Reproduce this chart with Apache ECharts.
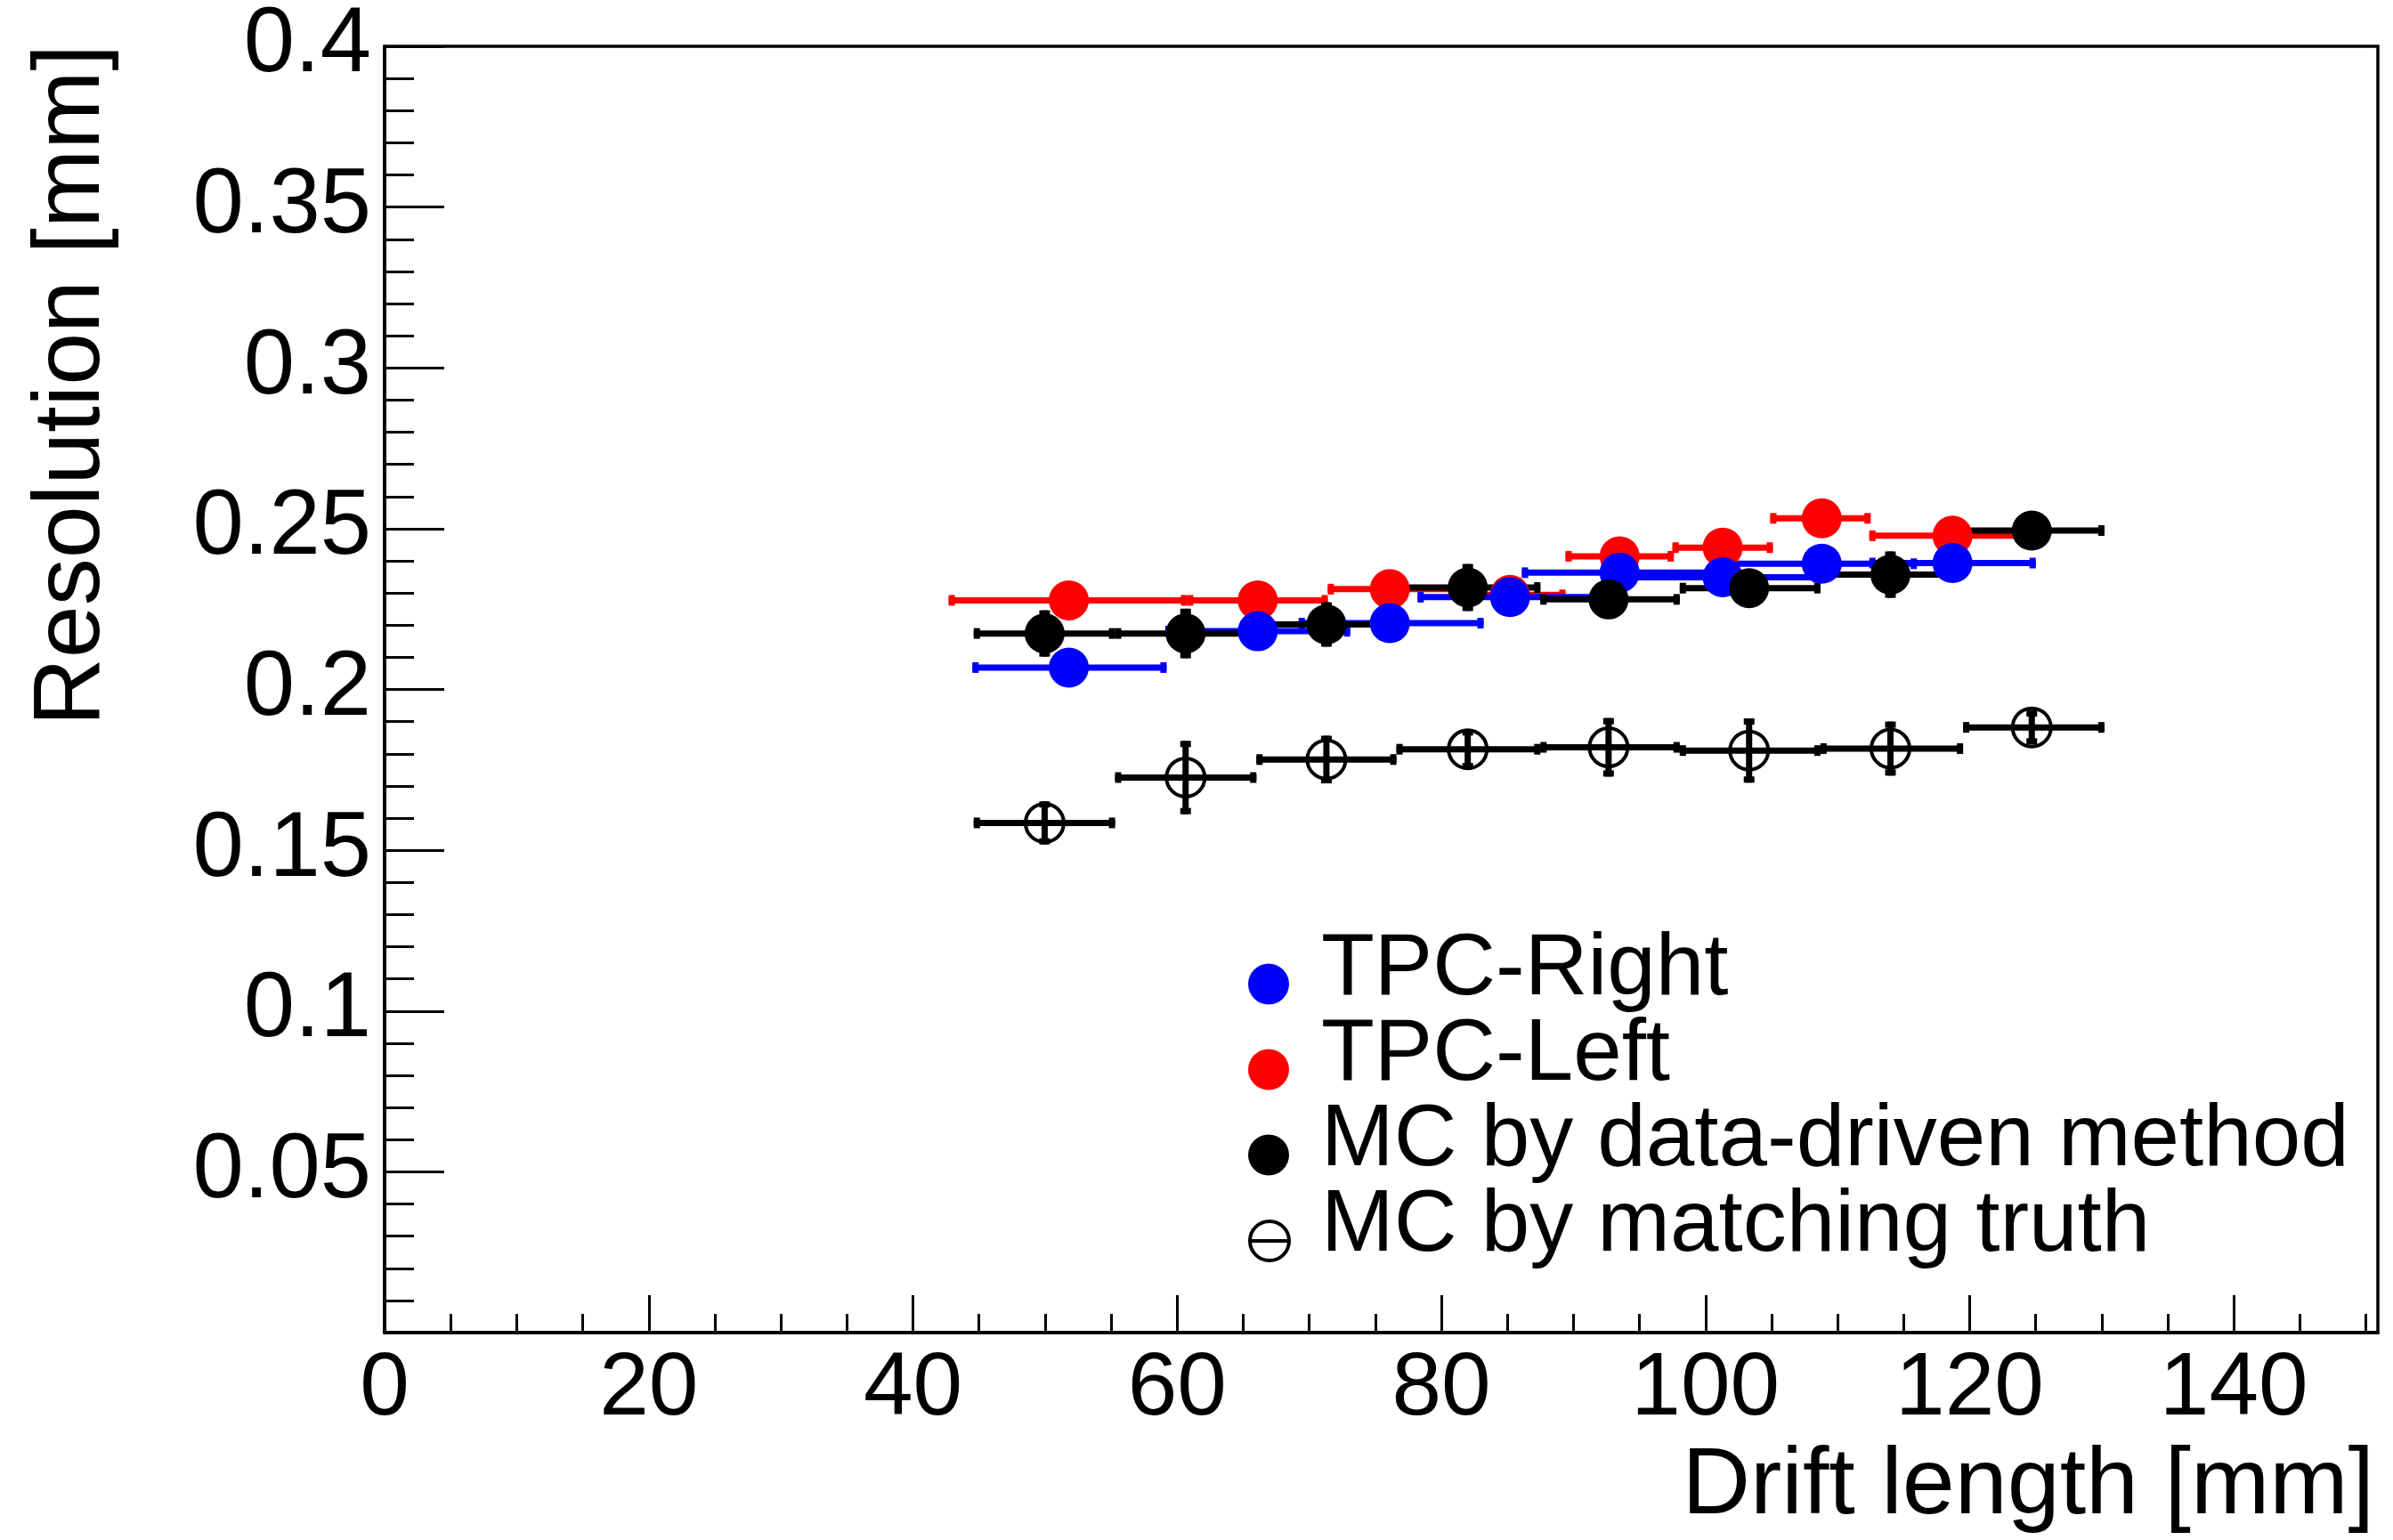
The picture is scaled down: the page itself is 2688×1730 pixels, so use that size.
<!DOCTYPE html>
<html>
<head>
<meta charset="utf-8">
<script src="https://cdn.jsdelivr.net/npm/echarts@6/dist/echarts.min.js"></script>
<style>
html,body{margin:0;padding:0;background:#fff;}
#chart{width:2688px;height:1730px;}
</style>
</head>
<body>
<div id="chart"></div>
<script>
// ---- data (drift length in mm, resolution in mm) ----
const xTicks = [0, 20, 40, 60, 80, 100, 120, 140];
const xMinorTicks = [5, 10, 15, 25, 30, 35, 45, 50, 55, 65, 70, 75, 85, 90, 95, 105, 110, 115, 125, 130, 135, 145, 150];

const xRight   = [51.8, 66.1, 76.1, 85.2, 93.5, 101.3, 108.8, 118.7];
const resRight = [0.2068, 0.2181, 0.2206, 0.2287, 0.2363, 0.2349, 0.2391, 0.2393];
const xLoRight = [44.5, 59.1, 69.2, 78.2, 86.1, 94.0, 101.6, 112.4];
const xHiRight = [59.2, 73.1, 83.2, 92.2, 100.9, 108.6, 116.0, 125.0];
const errRight = [0.004, 0.004, 0.004, 0.004, 0.004, 0.004, 0.004, 0.004];

const xLeft   = [51.8, 66.1, 76.1, 85.2, 93.5, 101.3, 108.8, 118.7];
const resLeft = [0.2277, 0.2277, 0.2312, 0.2294, 0.2414, 0.2441, 0.2532, 0.2478];
const xLoLeft = [42.7, 60.75, 71.4, 81.0, 89.4, 97.5, 104.9, 112.4];
const xHiLeft = [60.75, 71.4, 81.0, 89.4, 97.6, 105.1, 112.5, 125.0];
const errLeft = [0.004, 0.004, 0.004, 0.004, 0.004, 0.004, 0.004, 0.004];

const xMC    = [49.97, 60.64, 71.3, 82.0, 92.66, 103.3, 114.0, 124.7];
const xLoMC  = [44.6, 55.3, 66.0, 76.6, 87.5, 98.05, 108.7, 119.5];
const xHiMC  = [55.3, 66.0, 76.6, 87.5, 98.05, 108.7, 119.5, 130.2];
const resMC  = [0.2174, 0.2174, 0.2202, 0.2317, 0.2280, 0.2315, 0.2357, 0.2494];
const errMC  = [0.0072, 0.0077, 0.0069, 0.0073, 0.005, 0.005, 0.0072, 0.004];

const resTruth = [0.1585, 0.1726, 0.1782, 0.1814, 0.1820, 0.1810, 0.1816, 0.1882];
const errTruth = [0.0067, 0.0114, 0.0074, 0.0062, 0.0091, 0.0100, 0.0084, 0.0053];

const names = ['TPC-Right', 'TPC-Left', 'MC by data-driven method', 'MC by matching truth'];

// ---- helpers ----
const FONT = '"Liberation Sans", Arial, Helvetica, sans-serif';
function rows(x, y, lo, hi, e) { return x.map((v, i) => [v, y[i], lo[i], hi[i], e[i]]); }

function errRender(color) {
  const lw = 7, capW = 7, capH = 12;
  return function (params, api) {
    const x = api.value(0), y = api.value(1), xl = api.value(2), xh = api.value(3), ye = api.value(4);
    const pL = api.coord([xl, y]), pR = api.coord([xh, y]);
    const pB = api.coord([x, y - ye]), pT = api.coord([x, y + ye]);
    return {
      type: 'group',
      children: [
        { type: 'line', shape: { x1: pL[0], y1: pL[1], x2: pR[0], y2: pR[1] }, style: { stroke: color, lineWidth: lw } },
        { type: 'line', shape: { x1: pB[0], y1: pB[1], x2: pT[0], y2: pT[1] }, style: { stroke: color, lineWidth: lw } },
        { type: 'rect', shape: { x: pL[0], y: pL[1] - capH / 2, width: capW, height: capH }, style: { fill: color } },
        { type: 'rect', shape: { x: pR[0] - capW, y: pR[1] - capH / 2, width: capW, height: capH }, style: { fill: color } },
        { type: 'rect', shape: { x: pT[0] - capH / 2, y: pT[1], width: capH, height: capW }, style: { fill: color } },
        { type: 'rect', shape: { x: pB[0] - capH / 2, y: pB[1] - capW, width: capH, height: capW }, style: { fill: color } }
      ]
    };
  };
}
function errSeries(id, data, color) {
  return { type: 'custom', name: id, data: data, renderItem: errRender(color), encode: { x: 0, y: 1 },
           silent: true, animation: false, clip: false };
}
function markSeries(name, data, style, size) {
  return { type: 'scatter', name: name, data: data.map(r => [r[0], r[1]]), symbol: 'circle', symbolSize: size,
           itemStyle: Object.assign({ opacity: 1 }, style), silent: true, animation: false, emphasis: { disabled: true } };
}

const dRight = rows(xRight, resRight, xLoRight, xHiRight, errRight);
const dLeft  = rows(xLeft, resLeft, xLoLeft, xHiLeft, errLeft);
const dMC    = rows(xMC, resMC, xLoMC, xHiMC, errMC);
const dTruth = rows(xMC, resTruth, xLoMC, xHiMC, errTruth);

// legend icons: circle sitting in the lower part of a taller box (text is set higher than the marker)
const ICON_DOT  = 'path://M0,-30 M47,24 A23,23 0 1 1 1,24 A23,23 0 1 1 47,24 Z';
const ICON_OPEN = 'path://M0,-30 M47,24 A22,22 0 1 1 3,24 A22,22 0 1 1 47,24 Z M2,24 L46,24';

const chart = echarts.init(document.getElementById('chart'), null, { renderer: 'canvas' });
chart.setOption({
  animation: false,
  backgroundColor: '#fff',
  grid: { left: 432, right: 17, top: 52, bottom: 233, show: true, borderColor: '#000', borderWidth: 3.5, backgroundColor: 'transparent' },
  xAxis: [{
    type: 'value', min: 0, max: 150.9,
    axisLine: { show: true, onZero: false, lineStyle: { color: '#000', width: 3.5 } },
    axisTick: { show: true, inside: true, length: 42, customValues: xTicks, lineStyle: { color: '#000', width: 3 } },
    axisLabel: { show: true, customValues: xTicks, margin: 14, color: '#000', fontSize: 100, lineHeight: 100, fontFamily: FONT },
    splitLine: { show: false }
  }, {
    type: 'value', min: 0, max: 150.9, position: 'bottom', gridIndex: 0,
    axisLine: { show: false },
    axisTick: { show: true, inside: true, length: 21, customValues: xMinorTicks, lineStyle: { color: '#000', width: 3 } },
    axisLabel: { show: false },
    splitLine: { show: false }
  }],
  yAxis: {
    type: 'value', min: 0, max: 0.4, interval: 0.05,
    axisLine: { show: true, onZero: false, lineStyle: { color: '#000', width: 3.5 } },
    axisTick: { show: true, inside: true, length: 67, lineStyle: { color: '#000', width: 3 } },
    minorTick: { show: true, splitNumber: 5, length: 33, lineStyle: { color: '#000', width: 3 } },
    axisLabel: { margin: 15, color: '#000', fontSize: 103, fontFamily: FONT,
      formatter: v => v === 0 ? '' : String(+v.toFixed(2)) },
    splitLine: { show: false }
  },
  legend: {
    orient: 'vertical', left: 1399, top: 1041, padding: 0, itemGap: -2,
    itemWidth: 47, itemHeight: 77, selectedMode: false,
    textStyle: { color: '#000', fontSize: 98, fontFamily: FONT, lineHeight: 76, padding: [0, 0, 0, 31] },
    data: [
      { name: names[0], icon: ICON_DOT },
      { name: names[1], icon: ICON_DOT },
      { name: names[2], icon: ICON_DOT },
      { name: names[3], icon: ICON_OPEN,
        itemStyle: { color: 'rgba(0,0,0,0)', borderColor: '#000', borderWidth: 4 } }
    ]
  },
  graphic: [
    { type: 'text', x: 2667, y: 1671, silent: true,
      style: { text: 'Drift length [mm]', fill: '#000', fontSize: 106, fontFamily: FONT, align: 'right', verticalAlign: 'middle' } },
    { type: 'text', x: 82, y: 50, rotation: Math.PI / 2, silent: true,
      style: { text: 'Resolution [mm]', fill: '#000', fontSize: 106, fontFamily: FONT, align: 'right', verticalAlign: 'middle' } }
  ],
  series: [
    errSeries('err-left', dLeft, '#ff0000'),
    markSeries(names[1], dLeft, { color: '#ff0000' }, 45),
    errSeries('err-right', dRight, '#0000ff'),
    markSeries(names[0], dRight, { color: '#0000ff' }, 45),
    errSeries('err-mc', dMC, '#000000'),
    markSeries(names[2], dMC, { color: '#000000' }, 45),
    errSeries('err-truth', dTruth, '#000000'),
    markSeries(names[3], dTruth, { color: 'rgba(0,0,0,0)', borderColor: '#000', borderWidth: 4 }, 43)
  ]
});
</script>
</body>
</html>
